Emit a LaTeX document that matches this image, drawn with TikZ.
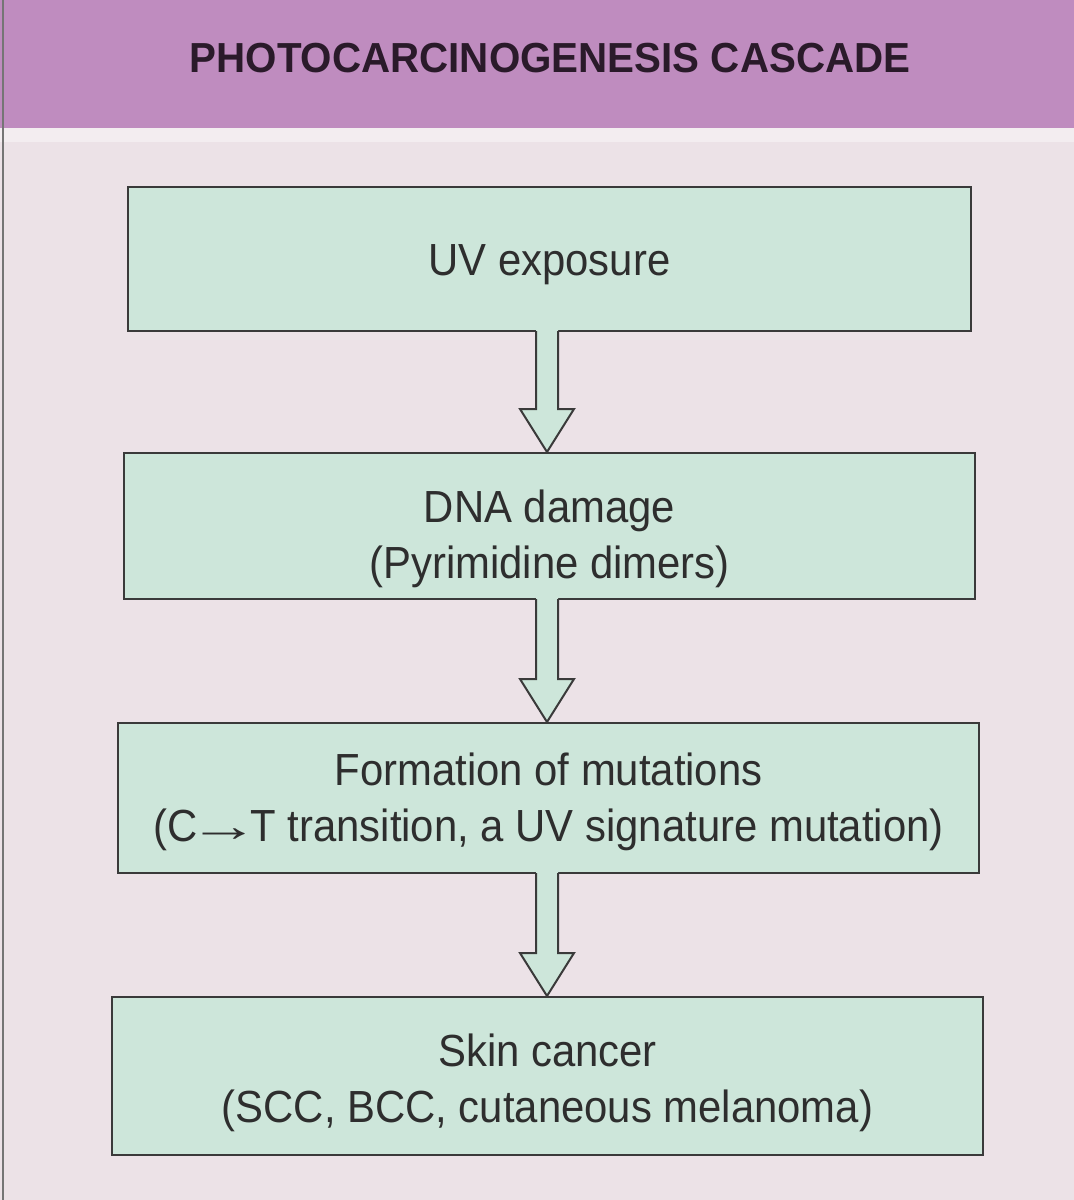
\documentclass[tikz,border=0pt]{standalone}
\usepackage{fontspec}
\setmainfont{Liberation Sans}
\newfontfamily\titlefont[FakeStretch=0.96]{Liberation Sans}
\newfontfamily\bodyfont[FakeStretch=0.93]{Liberation Sans}
\usetikzlibrary{calc}
\definecolor{pagebg}{HTML}{ECE2E7}
\definecolor{headbg}{HTML}{BF8CBF}
\definecolor{stripbg}{HTML}{F3EDF0}
\definecolor{boxbg}{HTML}{CDE6DA}
\definecolor{edge}{HTML}{3A3A3A}
\definecolor{ink}{HTML}{2E2E2E}
\definecolor{titleink}{HTML}{2A1A2A}
\tikzset{
  stepbox/.style={draw=edge, line width=2pt, fill=boxbg, inner sep=0pt},
  steptext/.style={text=ink, align=center, inner sep=0pt,
    font=\bodyfont\fontsize{45}{56}\selectfont},
  arrowline/.style={draw=edge, line width=2pt, line join=miter},
}
\newcommand\longarrowglyph{\kern-9pt\scalebox{1.7}[1]{→}\kern-9pt}
\newcommand\flowarrow[2]{%
  \path (#1.south -| ax) coordinate (at) (#2.north -| ax) coordinate (ah);
  \fill[boxbg] ($(at)+(-11,-2)$) -- ($(ah)+(-11,-43)$) -- ($(ah)+(-27,-43)$) -- (ah)
     -- ($(ah)+(27,-43)$) -- ($(ah)+(11,-43)$) -- ($(at)+(11,-2)$) -- cycle;
  \draw[arrowline] ($(at)+(-11,-1)$) -- ($(ah)+(-11,-43)$) -- ($(ah)+(-27,-43)$) -- (ah)
     -- ($(ah)+(27,-43)$) -- ($(ah)+(11,-43)$) -- ($(at)+(11,-1)$);
}
\begin{document}
\begin{tikzpicture}[x=1pt,y=-1pt]
  \useasboundingbox (0,0) rectangle (1074,1200);
  \fill[pagebg] (0,0) rectangle (1074,1200);
  \fill[headbg] (0,0) rectangle (1074,128);
  \fill[stripbg] (0,128) rectangle (1074,142);
  \draw[edge!70, line width=2pt] (3,0) -- (3,1200);
  \node[font=\titlefont\bfseries\fontsize{42}{48}\selectfont, text=titleink] (title) at (550,58) {PHOTOCARCINOGENESIS CASCADE};

  \coordinate (ax) at (547,0);
  \node[stepbox, minimum width=843pt, minimum height=144pt] (b1) at (549.5,259) {};
  \node[stepbox, minimum width=851pt, minimum height=146pt] (b2) at (549.5,526) {};
  \node[stepbox, minimum width=861pt, minimum height=150pt] (b3) at (548.5,798) {};
  \node[stepbox, minimum width=871pt, minimum height=158pt] (b4) at (547.5,1076) {};

  \node[steptext] (t1) at ($(b1.center)+(0,6)$) {UV exposure};
  \node[steptext] (t2) at ($(b2.center)+(0,13)$) {DNA damage\\(Pyrimidine dimers)};
  \node[steptext] (t3) at ($(b3.center)+(0,4)$) {Formation of mutations\\(C\longarrowglyph T transition, a UV signature mutation)};
  \node[steptext] (t4) at ($(b4.center)+(0,7)$) {Skin cancer\\(SCC, BCC, cutaneous melanoma)};

  \flowarrow{b1}{b2}
  \flowarrow{b2}{b3}
  \flowarrow{b3}{b4}
\end{tikzpicture}
\end{document}
